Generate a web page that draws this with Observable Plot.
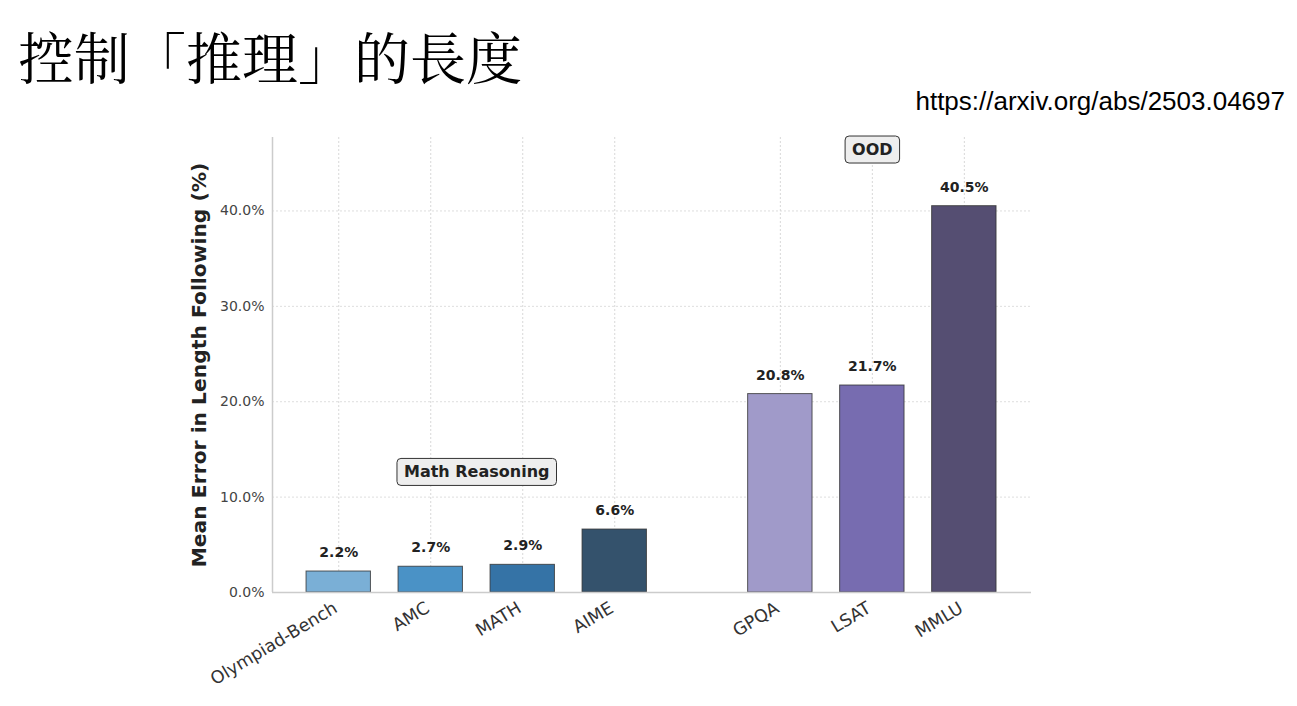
<!DOCTYPE html>
<html>
<head>
<meta charset="utf-8">
<script src="https://cdn.jsdelivr.net/npm/d3@7"></script>
<script src="https://cdn.jsdelivr.net/npm/@observablehq/plot@0.6"></script>
<style>
  html, body { margin: 0; padding: 0; background: #fff; }
  body { width: 1297px; height: 706px; position: relative; overflow: hidden; }
  #title { position: absolute; left: 18px; top: 22px; font-size: 56px; line-height: 1.2; z-index: 2;
    font-family: "Noto Serif CJK TC", "Noto Serif CJK SC", "Noto Sans CJK TC", serif; color: #000; }
  #source { position: absolute; right: 12px; top: 86px; font-size: 26px; line-height: 1.2; z-index: 2;
    font-family: "Liberation Sans", Arial, sans-serif; color: #000; }
  #chart { position: absolute; left: 0; top: 110px; z-index: 1; }
</style>
</head>
<body>
<div id="title">控制「推理」的長度</div>
<div id="source">https://arxiv.org/abs/2503.04697</div>
<div id="chart"></div>
<script>
// ---- data ----
const categories = ["Olympiad-Bench", "AMC", "MATH", "AIME", "GPQA", "LSAT", "MMLU"];
const groups = ["Math Reasoning", "Math Reasoning", "Math Reasoning", "Math Reasoning", "OOD", "OOD", "OOD"];
const values = [2.2, 2.7, 2.9, 6.6, 20.8, 21.7, 40.5];
const colors = ["#7aafd6", "#4a92c6", "#3573a6", "#34526c", "#a09ac9", "#776cb0", "#554e72"];
const yTicks = [0, 10, 20, 30, 40];
const groupLabels = ["Math Reasoning", "OOD"];
const groupLabelValues = [12.6, 46.4];
const yLabel = "Mean Error in Length Following (%)";

// ---- layout helpers ----
const groupGap = 0.8;
const barWidth = 0.7;
const pos = categories.map((c, i) => i + (groups[i] === "OOD" ? groupGap : 0));
const table = categories.map((c, i) => ({name: c, group: groups[i], value: values[i], color: colors[i], x: pos[i]}));
const annos = groupLabels.map((g, k) => {
  const xs = table.filter(d => d.group === g).map(d => d.x);
  return {label: g, x: d3.mean(xs), y: groupLabelValues[k]};
});
const xMin = -0.72, xMax = pos[pos.length - 1] + 0.73;
const yMax = 47.7;
const font = "DejaVu Sans, sans-serif";

const chart = Plot.plot({
  width: 1297,
  height: 596,
  marginTop: 27,
  marginBottom: 114,
  marginLeft: 272,
  marginRight: 266,
  style: {fontFamily: font, background: "transparent"},
  x: {type: "linear", domain: [xMin, xMax]},
  y: {domain: [0, yMax]},
  marks: [
    Plot.gridY(yTicks.slice(1), {stroke: "#dedede", strokeOpacity: 1, strokeDasharray: "2,2"}),
    Plot.gridX(pos, {stroke: "#d8d8d8", strokeOpacity: 1, strokeDasharray: "2,2"}),
    Plot.rectY(table, {
      x1: d => d.x - barWidth / 2, x2: d => d.x + barWidth / 2,
      y1: 0, y2: "value", fill: d => d.color,
      stroke: "#333", strokeWidth: 1, strokeOpacity: 0.8
    }),
    Plot.ruleX([xMin], {stroke: "#cccccc", strokeWidth: 1.5}),
    Plot.ruleY([0], {stroke: "#cccccc", strokeWidth: 1.5}),
    Plot.axisY(yTicks, {
      tickSize: 0, tickPadding: 8, fontSize: 14, color: "#444",
      tickFormat: d => d.toFixed(1) + "%", label: null
    }),
    Plot.axisX(pos, {
      tickSize: 0, tickPadding: 14, fontSize: 17.5, color: "#333", dx: -3,
      tickRotate: -31, textAnchor: "end",
      tickFormat: x => categories[pos.indexOf(x)], label: null
    }),
    Plot.text(table, {
      x: "x", y: "value", text: d => d.value.toFixed(1) + "%",
      dy: -19, fontWeight: "bold", fontSize: 14, fill: "#222"
    }),
    Plot.text(annos, {
      x: "x", y: "y", text: "label", fontWeight: "bold", fontSize: 16, fill: "#222"
    }),
    Plot.text([yLabel], {
      frameAnchor: "left", textAnchor: "middle", rotate: -90, dx: -73,
      fontWeight: "bold", fontSize: 20.3, fill: "#222"
    })
  ]
});
document.getElementById("chart").appendChild(chart);

// rounded boxes behind the group annotations
chart.querySelectorAll("text").forEach(t => {
  if (!groupLabels.includes(t.textContent)) return;
  const b = t.getBBox();
  const r = document.createElementNS("http://www.w3.org/2000/svg", "rect");
  const px = 7, py = 4;
  r.setAttribute("x", b.x - px);
  r.setAttribute("y", b.y - py);
  r.setAttribute("width", b.width + 2 * px);
  r.setAttribute("height", b.height + 2 * py);
  r.setAttribute("rx", 4);
  r.setAttribute("fill", "#eeeeee");
  r.setAttribute("stroke", "#333");
  r.setAttribute("stroke-width", 1);
  const tr = t.getAttribute("transform");
  if (tr) r.setAttribute("transform", tr);
  t.parentNode.insertBefore(r, t);
});
</script>
</body>
</html>
